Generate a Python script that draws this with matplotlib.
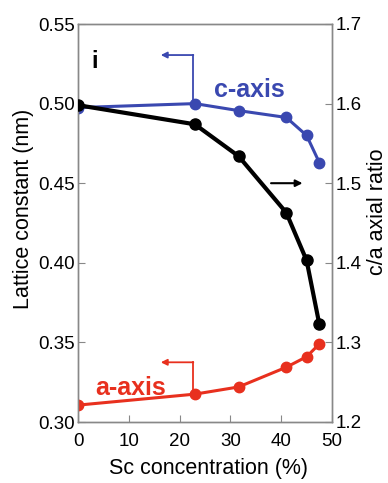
import matplotlib
matplotlib.use("Agg")
import matplotlib.pyplot as plt

sc = [0, 23, 31.6, 41, 45, 47.5]
c_axis = [0.4975, 0.500, 0.4956, 0.4913, 0.480, 0.463]
a_axis = [0.3106, 0.3175, 0.322, 0.3344, 0.341, 0.349]
ca_ratio = [1.598, 1.574, 1.534, 1.463, 1.403, 1.323]

left_ticks = [0.30, 0.35, 0.40, 0.45, 0.50, 0.55]
right_ticks = [1.2, 1.3, 1.4, 1.5, 1.6, 1.7]
x_ticks = [0, 10, 20, 30, 40, 50]

plt.rcParams['font.family'] = ['Liberation Sans', 'DejaVu Sans']

blue = '#3a48b0'
red = '#e8301e'

fig = plt.figure(figsize=(3.88, 4.83), dpi=100)
ax = fig.add_axes([78/388, 1 - 422/483, (332-78)/388, (422-24)/483])
ax2 = ax.twinx()

ax.plot(sc, c_axis, '-o', color=blue, lw=2.2, ms=7.5, zorder=3)
ax.plot(sc, a_axis, '-o', color=red, lw=2.2, ms=7.5, zorder=3)
ax2.plot(sc, ca_ratio, '-o', color='black', lw=3, ms=8, zorder=3)

ax.set_xlim(0, 50)
ax.set_ylim(0.30, 0.55)
ax2.set_ylim(1.2, 1.7)
ax.set_xticks(x_ticks)
ax.set_yticks(left_ticks)
ax.set_yticklabels([f"{v:.2f}" for v in left_ticks])
ax2.set_yticks(right_ticks)
ax2.set_yticklabels([f"{v:.1f}" for v in right_ticks])

for a in (ax, ax2):
    for s in a.spines.values():
        s.set_color('#888888')
        s.set_linewidth(1.0)
ax.tick_params(axis='y', direction='in', length=5, color='#888888', labelsize=13.5, pad=2.5)
ax.tick_params(axis='x', direction='in', length=5, color='#888888', labelsize=13.5, pad=8)
ax2.tick_params(direction='in', length=5, color='#888888', labelsize=13.5, pad=2.5)

ax.set_xlabel('Sc concentration (%)', fontsize=15.5, va='center')
ax.xaxis.set_label_coords(0.514, -0.1156)
ax.set_ylabel('Lattice constant (nm)', fontsize=15.5, va='center')
ax.yaxis.set_label_coords(-0.213, 0.535)
ax2.set_ylabel('c/a axial ratio', fontsize=15.5, va='center')
ax2.yaxis.set_label_coords(1.178, 0.528)

ax.text(0.065, 0.935, 'i', transform=ax.transAxes, fontsize=17, fontweight='bold',
        va='top', ha='center')
ax.text(26.8, 0.5085, 'c-axis', color=blue, fontsize=18, fontweight='bold', va='center', ha='left')
ax.text(3.4, 0.3215, 'a-axis', color=red, fontsize=18, fontweight='bold', va='center', ha='left')

# blue bent arrow
ax.plot([22.6, 22.6], [0.5005, 0.5305], color=blue, lw=1.3)
ax.annotate('', xy=(16.3, 0.5305), xytext=(22.7, 0.5305),
            arrowprops=dict(arrowstyle='-|>', color=blue, lw=1.3, mutation_scale=9, shrinkA=0, shrinkB=0))
# red bent arrow
ax.plot([22.6, 22.6], [0.3175, 0.3375], color=red, lw=1.3)
ax.annotate('', xy=(16.3, 0.3375), xytext=(22.7, 0.3375),
            arrowprops=dict(arrowstyle='-|>', color=red, lw=1.3, mutation_scale=9, shrinkA=0, shrinkB=0))
# black arrow
ax2.annotate('', xy=(44.2, 1.5), xytext=(38, 1.5),
             arrowprops=dict(arrowstyle='-|>', color='black', lw=1.5, mutation_scale=10, shrinkA=0, shrinkB=0))

fig.savefig('out.png', dpi=100)
